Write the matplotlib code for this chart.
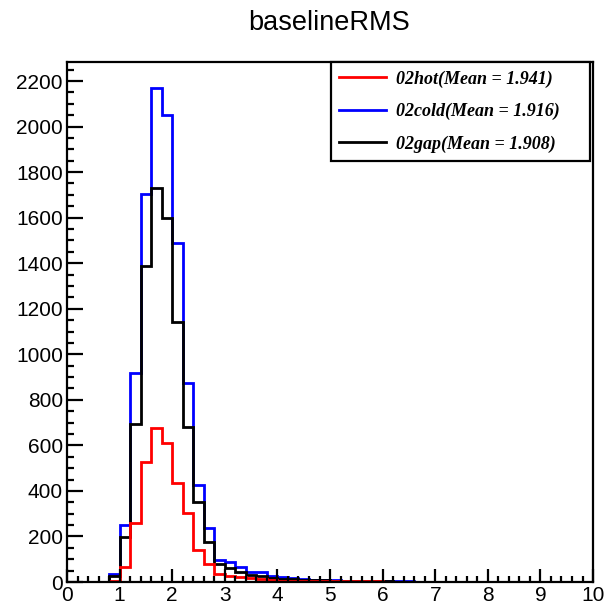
import numpy as np
import matplotlib
matplotlib.use("Agg")
import matplotlib.pyplot as plt
from matplotlib.ticker import MultipleLocator

# bin edges: 50 bins of 0.2 from 0 to 10
edges = np.linspace(0, 10, 51)

# 02cold
cold = [0, 0, 0, 0, 35, 250, 916, 1704, 2168, 2050,
        1490, 873, 425, 236, 97, 88, 68, 46, 44, 25,
        20, 16, 14, 10, 9, 7, 6, 5, 5, 4,
        4, 3, 3, 2, 2, 2, 1, 1, 1, 1,
        1, 1, 0, 1, 0, 1, 0, 1, 0, 0]

# 02gap
gap = [0, 0, 0, 0, 25, 199, 692, 1388, 1729, 1597,
       1143, 682, 353, 177, 78, 60, 42, 30, 25, 17,
       14, 12, 10, 8, 7, 5, 4, 4, 3, 3,
       3, 2, 2, 2, 1, 1, 1, 1, 1, 1,
       1, 1, 0, 1, 0, 0, 1, 0, 0, 0]

# 02hot
hot = [0, 0, 0, 0, 5, 67, 258, 528, 675, 609,
       433, 302, 140, 79, 34, 28, 22, 17, 12, 8,
       6, 5, 4, 4, 3, 3, 3, 3, 4, 3,
       2, 2, 2, 1, 1, 1, 1, 1, 1, 1,
       1, 1, 1, 0, 1, 0, 0, 1, 0, 0]

labels = ["02hot(Mean = 1.941)", "02cold(Mean = 1.916)", "02gap(Mean = 1.908)"]

fig = plt.figure(figsize=(6.06, 6.09), dpi=100)
ax = fig.add_axes([0.1106, 0.0443, 0.868, 0.8537])

lw = 2.0
ax.stairs(cold, edges, color="#0000ff", lw=lw, baseline=None)
ax.stairs(gap, edges, color="black", lw=lw, baseline=None)
ax.stairs(hot, edges, color="#ff0000", lw=lw, baseline=None)

ax.set_xlim(0, 10)
ax.set_ylim(0, 2283)

ax.xaxis.set_major_locator(MultipleLocator(1))
ax.xaxis.set_minor_locator(MultipleLocator(0.2))
ax.yaxis.set_major_locator(MultipleLocator(200))
ax.yaxis.set_minor_locator(MultipleLocator(50))

ax.tick_params(axis="both", which="both", direction="in", top=False, right=False,
               width=1.6, labelsize=15)
ax.tick_params(axis="x", which="major", length=9.5, pad=3)
ax.tick_params(axis="x", which="minor", length=4)
ax.tick_params(axis="y", which="major", length=11.5, pad=3)
ax.tick_params(axis="y", which="minor", length=5)
for lab in ax.get_xticklabels() + ax.get_yticklabels():
    lab.set_family("Liberation Sans")
for sp in ax.spines.values():
    sp.set_linewidth(1.6)

fig.text(0.543, 0.962, "baselineRMS", ha="center", va="center",
         fontsize=19.5, family="Liberation Sans")

leg = ax.legend([plt.Line2D([], [], color="#ff0000", lw=lw),
                 plt.Line2D([], [], color="#0000ff", lw=lw),
                 plt.Line2D([], [], color="black", lw=lw)],
                labels, loc="upper left", bbox_to_anchor=(0.502, 1.0, 0.492, 0.0),
                mode="expand", borderaxespad=0, fancybox=False,
                prop={"family": "Liberation Serif", "weight": "bold",
                      "style": "italic", "size": 13},
                handlelength=2.6, handletextpad=0.55, labelspacing=0.85,
                borderpad=0.45, framealpha=1)
leg.get_frame().set_edgecolor("black")
leg.get_frame().set_linewidth(1.6)

fig.savefig("out.png", dpi=100)
